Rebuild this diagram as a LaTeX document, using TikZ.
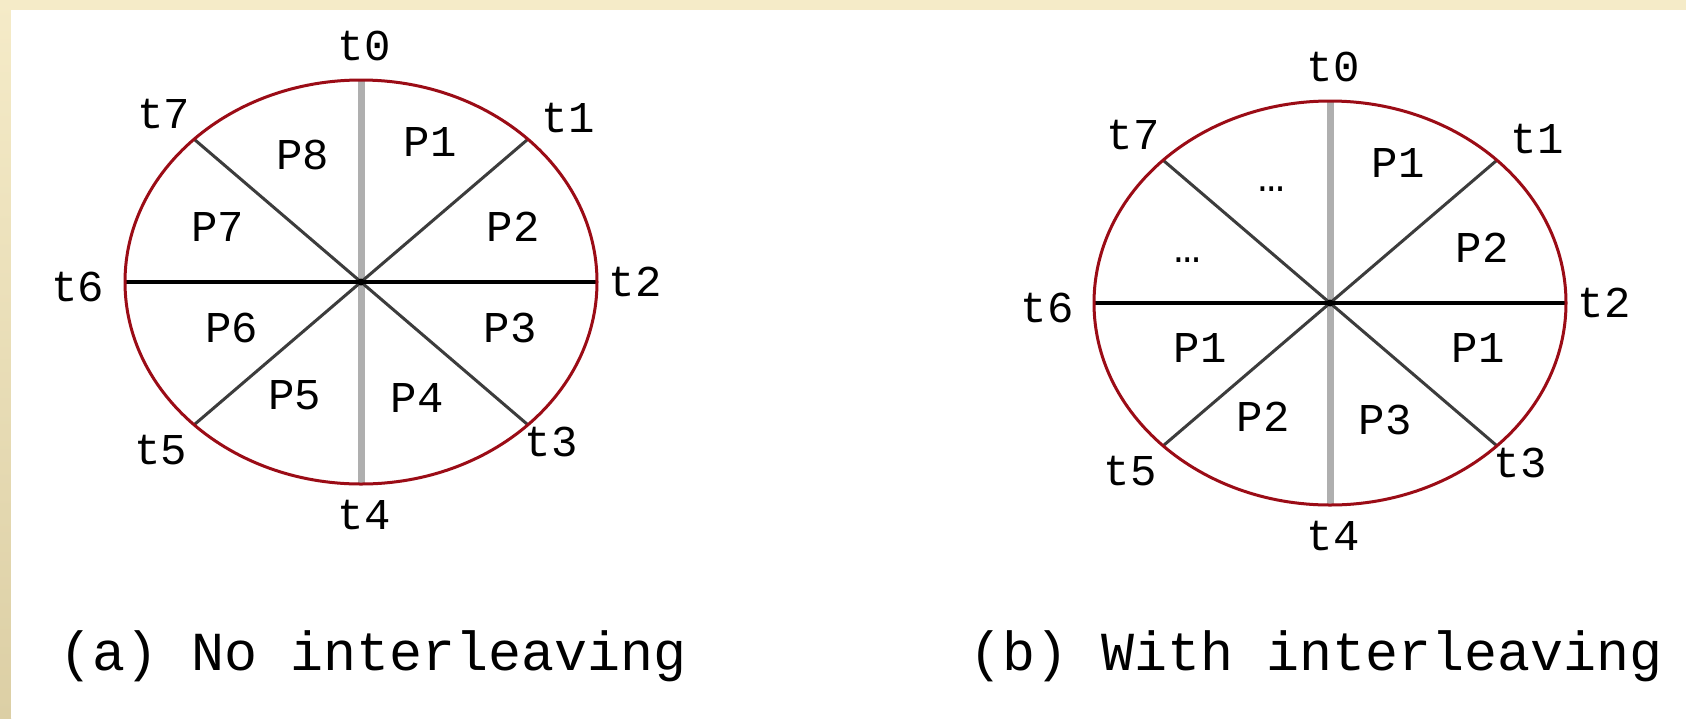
\documentclass[tikz,border=0pt]{standalone}
\usepackage{fontspec}
\setmonofont{Liberation Mono}
\definecolor{beigelight}{RGB}{245,235,200}
\definecolor{beigedark}{RGB}{220,207,165}
\definecolor{rimred}{RGB}{155,12,22}
\definecolor{spokegray}{RGB}{175,175,175}
\definecolor{diaggray}{RGB}{60,60,60}
\tikzset{
  rim/.style={draw=rimred, line width=3pt},
  vspoke/.style={draw=spokegray, line width=7pt},
  hspoke/.style={draw=black, line width=4pt},
  dspoke/.style={draw=diaggray, line width=3pt},
  tlabel/.style={font=\fontsize{44}{48}\selectfont\ttfamily, inner sep=0pt},
  plabel/.style={font=\fontsize{44}{48}\selectfont\ttfamily, inner sep=0pt, anchor=base},
  caption/.style={font=\fontsize{55}{60}\selectfont\ttfamily, inner sep=0pt, anchor=base},
}
\newcommand\diskwheel[1]{%
  \coordinate (#1c) at (0,0);
  \coordinate (#1e0) at (0,-202);
  \coordinate (#1e1) at (166.9,-142.8);
  \coordinate (#1e2) at (236,0);
  \coordinate (#1e3) at (166.9,142.8);
  \coordinate (#1e4) at (0,202);
  \coordinate (#1e5) at (-166.9,142.8);
  \coordinate (#1e6) at (-236,0);
  \coordinate (#1e7) at (-166.9,-142.8);
  \draw[vspoke] (#1e0) -- (#1e4);
  \draw[dspoke] (#1e1) -- (#1e5);
  \draw[dspoke] (#1e7) -- (#1e3);
  \draw[hspoke] (#1e6) -- (#1e2);
  \fill (#1c) circle (3.5);
  \draw[rim] (#1c) ellipse [x radius=236, y radius=202];
  \node[tlabel] (#1t0) at (3,-236) {t0};
  \node[tlabel] (#1t1) at (207,-164) {t1};
  \node[tlabel] (#1t2) at (274,0) {t2};
  \node[tlabel] (#1t3) at (190,160) {t3};
  \node[tlabel] (#1t4) at (3,233) {t4};
  \node[tlabel] (#1t5) at (-200,168) {t5};
  \node[tlabel] (#1t6) at (-283,5) {t6};
  \node[tlabel] (#1t7) at (-197,-168) {t7};
}
\begin{document}
\begin{tikzpicture}[x=1pt,y=-1pt]
  \useasboundingbox (0,0) rectangle (1686,718);
  \fill[beigelight] (0,0) rectangle (1686,718);
  \shade[top color=beigelight, bottom color=beigedark] (0,0) rectangle (11,718);
  \fill[white] (11,10) rectangle (1686,718);

  % (a) no interleaving
  \begin{scope}[shift={(361,282)}]
    \diskwheel{a}
    \node[plabel] (aP8) at (-58,-113) {P8};
    \node[plabel] (aP1) at (69,-126) {P1};
    \node[plabel] (aP7) at (-143,-41) {P7};
    \node[plabel] (aP2) at (152,-41) {P2};
    \node[plabel] (aP6) at (-129,60) {P6};
    \node[plabel] (aP3) at (149,60) {P3};
    \node[plabel] (aP5) at (-66,127) {P5};
    \node[plabel] (aP4) at (56,130) {P4};
  \end{scope}

  % (b) with interleaving
  \begin{scope}[shift={(1330,303)}]
    \diskwheel{b}
    \node[plabel] (bQ1) at (68,-126) {P1};
    \node[plabel] (bQ8) at (-58,-112) {…};
    \node[plabel] (bQ2) at (152,-41) {P2};
    \node[plabel] (bQ7) at (-142,-41) {…};
    \node[plabel] (bQ6) at (-130,59) {P1};
    \node[plabel] (bQ3) at (148,59) {P1};
    \node[plabel] (bQ5) at (-67,128) {P2};
    \node[plabel] (bQ4) at (55,131) {P3};
  \end{scope}

  \node[caption] (capA) at (373,670) {(a) No interleaving};
  \node[caption] (capB) at (1316,670) {(b) With interleaving};
\end{tikzpicture}
\end{document}
